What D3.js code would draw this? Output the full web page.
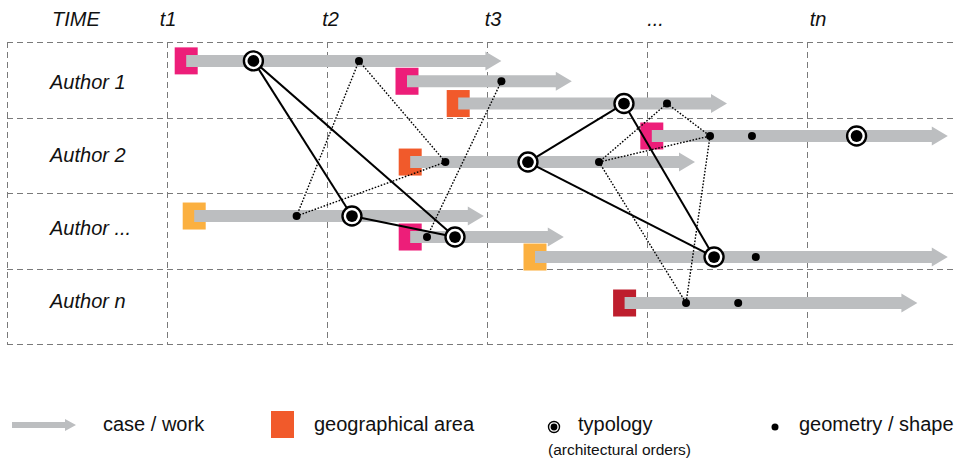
<!DOCTYPE html>
<html>
<head>
<meta charset="utf-8">
<script src="https://cdn.jsdelivr.net/npm/d3@7"></script>
<style>
html,body{margin:0;padding:0;background:#fff;}
svg{display:block;font-family:"Liberation Sans",Arial,sans-serif;}
</style>
</head>
<body>
<svg id="chart" width="955" height="461"></svg>
<script>
// ---- data ----
const timeTicks = [10, 20, 30, 40, 50];
const timeLabels = ["t1", "t2", "t3", "...", "tn"];
const authors = ["Author 1", "Author 2", "Author ...", "Author n"];

// cases / works (arrows)
const caseStart = [11.2, 25.0, 28.2, 40.3, 25.2, 11.7, 25.2, 33.0, 38.6];
const caseEnd   = [30.9, 35.3, 45.0, 58.8, 43.0, 29.8, 34.8, 58.8, 56.9];
const caseLane  = [0.25, 0.52, 0.815, 1.245, 1.59, 2.305, 2.583, 2.848, 3.457];
const caseArea  = ["pink", "pink", "orange", "pink", "orange", "yellow", "pink", "yellow", "red"];
const areaNames = ["pink", "orange", "yellow", "red"];
const areaColors = ["#ED1E79", "#F15A2B", "#FBB040", "#BE1E2D"];

// typology nodes (architectural orders)
const typologyCase = [0, 2, 3, 4, 5, 6, 7];
const typologyTime = [15.4, 38.56, 53.1, 32.56, 21.56, 28.0, 44.19];
const typologyLinks = [[0, 4], [0, 5], [4, 5], [3, 1], [3, 6], [1, 6]];

// geometry / shape nodes
const geometryCase = [0, 1, 2, 3, 3, 4, 4, 5, 6, 7, 8, 8];
const geometryTime = [22.0, 30.9, 41.25, 43.94, 46.56, 27.4, 37.0, 18.1, 26.25, 46.8, 42.44, 45.7];
const geometryLinks = [[0, 7], [0, 5], [5, 7], [1, 8], [2, 6], [2, 3], [6, 3], [6, 10], [3, 10]];

const legendItems = ["case / work", "geographical area", "typology", "geometry / shape"];
const legendNote = "(architectural orders)";

// ---- scales ----
const svg = d3.select("#chart");
const x = d3.scaleLinear().domain([0, 60]).range([7, 967]);
const y = d3.scaleLinear().domain([0, 4]).range([42, 344]);
const color = d3.scaleOrdinal().domain(areaNames).range(areaColors);
const labelY = d3.scaleLinear().domain([0, 3]).range([89, 308]);

const gridColor = "#7a7a7a";
const barColor = "#BCBEC0";

// ---- grid ----
const grid = svg.append("g").attr("stroke", gridColor).attr("stroke-width", 1)
  .attr("stroke-dasharray", "6,4").attr("fill", "none");
d3.range(0, 5).forEach(i => {
  grid.append("line").attr("x1", x(0)).attr("x2", 955)
    .attr("y1", Math.round(y(i)) + 0.5).attr("y2", Math.round(y(i)) + 0.5);
});
[0].concat(timeTicks).forEach(t => {
  grid.append("line").attr("x1", Math.round(x(t)) + 0.5).attr("x2", Math.round(x(t)) + 0.5)
    .attr("y1", y(0)).attr("y2", y(4));
});

// ---- header ----
svg.append("text").attr("x", 52).attr("y", 26).attr("font-size", 20)
  .attr("font-style", "italic").attr("fill", "#111").text("TIME");
svg.selectAll(".tlabel").data(timeTicks).enter().append("text")
  .attr("x", (d, i) => x(d) + 1 + i * 2.5).attr("y", 26)
  .attr("text-anchor", "middle").attr("font-size", 20).attr("font-style", "italic")
  .attr("fill", "#111").text((d, i) => timeLabels[i]);

// ---- author labels ----
svg.selectAll(".alabel").data(authors).enter().append("text")
  .attr("x", 50).attr("y", (d, i) => labelY(i))
  .attr("font-size", 20).attr("font-style", "italic").attr("fill", "#111").text(d => d);

// ---- cases ----
const cases = caseStart.map((s, i) => ({s, e: caseEnd[i], lane: caseLane[i], area: caseArea[i]}));
function arrowPath(x0, x1, yc, bh, hh, hl) {
  const xb = x1 - hl;
  return `M${x0},${yc - bh / 2}L${xb},${yc - bh / 2}L${xb},${yc - hh / 2}L${x1},${yc}` +
         `L${xb},${yc + hh / 2}L${xb},${yc + bh / 2}L${x0},${yc + bh / 2}Z`;
}
const cg = svg.append("g");
cases.forEach(c => {
  const cx = x(c.s), cy = y(c.lane);
  cg.append("rect").attr("x", cx - 11.5).attr("y", cy - 13.5).attr("width", 23).attr("height", 27)
    .attr("fill", color(c.area));
  cg.append("path").attr("d", arrowPath(cx, x(c.e), cy, 12, 19, 16)).attr("fill", barColor);
});

// ---- nodes ----
const typ = typologyCase.map((ci, i) => ({x: x(typologyTime[i]), y: y(caseLane[ci])}));
const geo = geometryCase.map((ci, i) => ({x: x(geometryTime[i]), y: y(caseLane[ci])}));

svg.append("g").selectAll("line").data(geometryLinks).enter().append("line")
  .attr("x1", d => geo[d[0]].x).attr("y1", d => geo[d[0]].y)
  .attr("x2", d => geo[d[1]].x).attr("y2", d => geo[d[1]].y)
  .attr("stroke", "#000").attr("stroke-width", 1.4).attr("stroke-dasharray", "1.6,1.6");

svg.append("g").selectAll("line").data(typologyLinks).enter().append("line")
  .attr("x1", d => typ[d[0]].x).attr("y1", d => typ[d[0]].y)
  .attr("x2", d => typ[d[1]].x).attr("y2", d => typ[d[1]].y)
  .attr("stroke", "#000").attr("stroke-width", 2);

function typIcon(g, cx, cy, r) {
  g.append("circle").attr("cx", cx).attr("cy", cy).attr("r", r)
    .attr("fill", "#fff").attr("stroke", "#000").attr("stroke-width", r * 0.25);
  g.append("circle").attr("cx", cx).attr("cy", cy).attr("r", r * 0.62).attr("fill", "#000");
}
const ng = svg.append("g");
typ.forEach(p => typIcon(ng, p.x, p.y, 9.5));
geo.forEach(p => ng.append("circle").attr("cx", p.x).attr("cy", p.y).attr("r", 4).attr("fill", "#000"));

// ---- legend ----
const lg = svg.append("g");
lg.append("path").attr("d", arrowPath(12, 76, 425, 6, 12, 11)).attr("fill", barColor);
lg.append("rect").attr("x", 271).attr("y", 411).attr("width", 23).attr("height", 27).attr("fill", areaColors[1]);
typIcon(lg, 554, 427, 5.5);
lg.append("circle").attr("cx", 775).attr("cy", 427).attr("r", 3.5).attr("fill", "#000");
const legendX = [103, 314, 578, 799];
legendItems.forEach((t, i) => {
  lg.append("text").attr("x", legendX[i]).attr("y", 431).attr("font-size", 20).attr("fill", "#111").text(t);
});
lg.append("text").attr("x", 548).attr("y", 455).attr("font-size", 15.5).attr("fill", "#111").text(legendNote);
</script>
</body>
</html>
